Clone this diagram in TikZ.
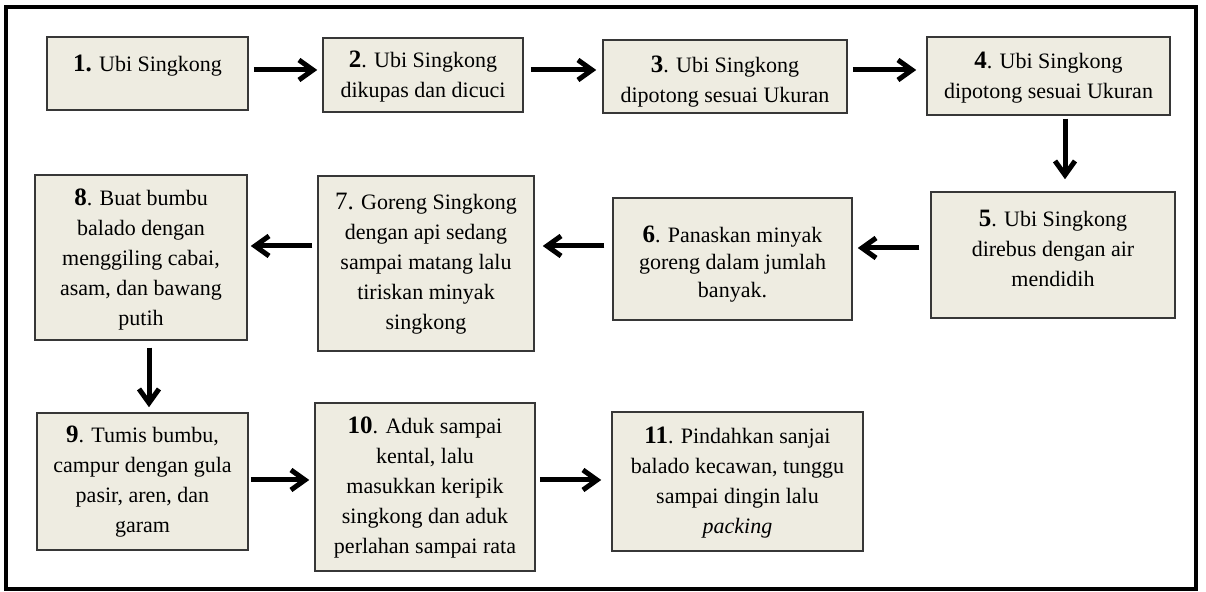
\documentclass[tikz,border=0pt]{standalone}
\usepackage{fontspec}
\setmainfont{Liberation Serif}
\usetikzlibrary{arrows.meta,fit,calc}
\definecolor{boxfill}{RGB}{238,236,225}
\definecolor{boxline}{RGB}{55,55,55}
\newcommand\bnum[1]{{\fontsize{12.5}{15}\selectfont\bfseries #1}}
\begin{document}
\begin{tikzpicture}[x=0.5pt,y=-0.5pt,
  box/.style={draw=boxline, fill=boxfill, line width=0.75pt, inner sep=0pt},
  txt/.style={align=center, inner sep=0pt, font=\fontsize{11}{15}\selectfont, anchor=north},
  arr/.style={line width=2.5pt, -{Straight Barb[length=7pt,width=10pt]}},
  frameline/.style={line width=2pt}]
\useasboundingbox (0,0) rectangle (1206,592);
\draw[frameline] (6,7) rectangle (1195.5,589.5);
% boxes
\node[box, fit={(47,37) (248,110)}] (b1) {};
\node[box, fit={(323,38) (523,112)}] (b2) {};
\node[box, fit={(603,40) (847,113)}] (b3) {};
\node[box, fit={(927,37) (1170,115)}] (b4) {};
\node[box, fit={(931,192) (1175,318)}] (b5) {};
\node[box, fit={(613,198) (852,320)}] (b6) {};
\node[box, fit={(318,176) (534,351)}] (b7) {};
\node[box, fit={(35,175) (247,340)}] (b8) {};
\node[box, fit={(37,413) (248,550)}] (b9) {};
\node[box, fit={(315,403) (535,571)}] (b10) {};
\node[box, fit={(612,412) (863,551)}] (b11) {};
% texts
\node[txt] (t1) at ($(b1.north)+(0,18)$) {\bnum{1.} Ubi Singkong};
\node[txt] (t2) at ($(b2.north)+(0,13)$) {\bnum{2}. Ubi Singkong\\dikupas dan dicuci};
\node[txt] (t3) at ($(b3.north)+(0,16)$) {\bnum{3}. Ubi Singkong\\dipotong sesuai Ukuran};
\node[txt] (t4) at ($(b4.north)+(0,15)$) {\bnum{4}. Ubi Singkong\\dipotong sesuai Ukuran};
\node[txt] (t5) at ($(b5.north)+(0,18)$) {\bnum{5}. Ubi Singkong\\direbus dengan air\\mendidih};
\node[txt, font=\fontsize{11}{13.8}\selectfont] (t6) at ($(b6.north)+(0,28)$) {\bnum{6}. Panaskan minyak\\goreng dalam jumlah\\banyak.};
\node[txt] (t7) at ($(b7.north)+(0,17)$) {{\fontsize{12.5}{15}\selectfont 7.} Goreng Singkong\\dengan api sedang\\sampai matang lalu\\tiriskan minyak\\singkong};
\node[txt] (t8) at ($(b8.north)+(0,14)$) {\bnum{8}. Buat bumbu\\balado dengan\\menggiling cabai,\\asam, dan bawang\\putih};
\node[txt] (t9) at ($(b9.north)+(0,13)$) {\bnum{9}. Tumis bumbu,\\campur dengan gula\\pasir, aren, dan\\garam};
\node[txt] (t10) at ($(b10.north)+(0,14)$) {\bnum{10}. Aduk sampai\\kental, lalu\\masukkan keripik\\singkong dan aduk\\perlahan sampai rata};
\node[txt] (t11) at ($(b11.north)+(0,15)$) {\bnum{11}. Pindahkan sanjai\\balado kecawan, tunggu\\sampai dingin lalu\\\textit{packing}};
% arrows
\draw[arr] ([xshift=2.5pt,yshift=1.75pt]b1.east) -- ([xshift=-2.5pt,yshift=2.5pt]b2.west);
\draw[arr] ([xshift=3.5pt,yshift=2.5pt]b2.east) -- ([xshift=-3pt,yshift=3.25pt]b3.west);
\draw[arr] ([xshift=2.5pt,yshift=3.25pt]b3.east) -- ([xshift=-5pt,yshift=3pt]b4.west);
\draw[arr] ([xshift=8.25pt,yshift=-1.5pt]b4.south) -- ([xshift=6pt,yshift=6pt]b5.north);
\draw[arr] ([xshift=-5.5pt,yshift=3.5pt]b5.west) -- ([xshift=2.5pt,yshift=5.5pt]b6.east);
\draw[arr] ([xshift=-4pt,yshift=6.5pt]b6.west) -- ([xshift=4pt,yshift=8.75pt]b7.east);
\draw[arr] ([xshift=-2.5pt,yshift=8.75pt]b7.west) -- ([xshift=1.5pt,yshift=5.75pt]b8.east);
\draw[arr] ([xshift=4pt,yshift=-3.5pt]b8.south) -- ([xshift=3.25pt,yshift=2.5pt]b9.north);
\draw[arr] ([xshift=1pt,yshift=0.75pt]b9.east) -- ([xshift=-2.5pt,yshift=3.5pt]b10.west);
\draw[arr] ([xshift=2pt,yshift=3.5pt]b10.east) -- ([xshift=-5pt,yshift=0.75pt]b11.west);
\end{tikzpicture}
\end{document}
